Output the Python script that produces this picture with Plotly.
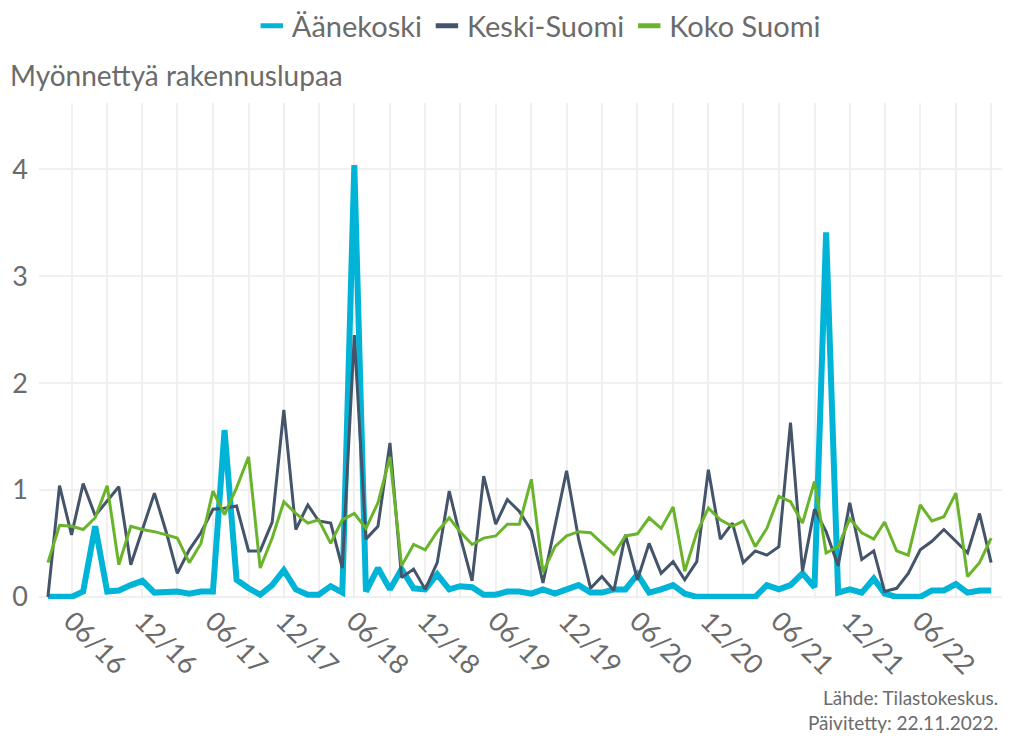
import pandas as pd
import plotly.graph_objects as go

months = pd.date_range("2016-04-01", periods=81, freq="MS")

aanekoski = [0, 0, 0, 0.05, 0.66, 0.05, 0.06, 0.11, 0.15, 0.04,
             0.05, 0.05, 0.03, 0.05, 0.05, 1.56, 0.16, 0.08, 0.02, 0.11,
             0.25, 0.07, 0.02, 0.02, 0.10, 0.04, 4.04, 0.05, 0.27, 0.07,
             0.26, 0.08, 0.07, 0.21, 0.07, 0.10, 0.09, 0.02, 0.02, 0.05,
             0.05, 0.03, 0.07, 0.03, 0.07, 0.11, 0.04, 0.04, 0.07, 0.07,
             0.21, 0.04, 0.07, 0.11, 0.03, 0, 0, 0, 0, 0,
             0, 0.11, 0.07, 0.11, 0.22, 0.09, 3.41, 0.04, 0.07, 0.04,
             0.17, 0.03, 0, 0, 0, 0.06, 0.06, 0.12, 0.04, 0.06,
             0.06]

keski_suomi = [0, 1.04, 0.58, 1.06, 0.76, 0.90, 1.03, 0.30, 0.63, 0.97,
               0.60, 0.22, 0.44, 0.60, 0.82, 0.83, 0.85, 0.43, 0.43, 0.70,
               1.75, 0.63, 0.86, 0.71, 0.69, 0.27, 2.45, 0.54, 0.66, 1.44,
               0.18, 0.26, 0.07, 0.32, 0.99, 0.57, 0.15, 1.13, 0.68, 0.91,
               0.80, 0.62, 0.13, 0.65, 1.18, 0.54, 0.08, 0.19, 0.06, 0.58,
               0.16, 0.50, 0.22, 0.33, 0.16, 0.33, 1.19, 0.54, 0.69, 0.32,
               0.43, 0.39, 0.47, 1.63, 0.24, 0.82, 0.61, 0.29, 0.88, 0.35,
               0.43, 0.05, 0.08, 0.22, 0.44, 0.52, 0.63, 0.52, 0.41, 0.78,
               0.32]

koko_suomi = [0.32, 0.67, 0.66, 0.63, 0.74, 1.04, 0.30, 0.66, 0.63, 0.61,
              0.58, 0.55, 0.32, 0.50, 0.99, 0.77, 1.02, 1.31, 0.27, 0.55,
              0.89, 0.78, 0.69, 0.72, 0.50, 0.72, 0.78, 0.64, 0.88, 1.31,
              0.29, 0.49, 0.44, 0.61, 0.74, 0.61, 0.49, 0.55, 0.57, 0.68,
              0.68, 1.10, 0.23, 0.47, 0.57, 0.61, 0.60, 0.50, 0.40, 0.57,
              0.59, 0.74, 0.64, 0.84, 0.24, 0.60, 0.83, 0.72, 0.66, 0.71,
              0.47, 0.64, 0.94, 0.89, 0.69, 1.08, 0.41, 0.47, 0.73, 0.60,
              0.54, 0.70, 0.43, 0.39, 0.86, 0.71, 0.75, 0.97, 0.19, 0.32,
              0.55]

series_names = ["Äänekoski", "Keski-Suomi", "Koko Suomi"]
series_values = [aanekoski, keski_suomi, koko_suomi]
colors = ["#00b4d8", "#44546a", "#6ab42c"]
widths = [6, 3, 3]

FONT = "Lato"
TEXT = "#6b6b6b"

# page body has an 8px default margin -> keep the figure inside the viewport
W, H = 994, 728

fig = go.Figure()
for name, vals, col, w in zip(series_names, series_values, colors, widths):
    fig.add_trace(go.Scatter(
        x=months, y=vals, mode="lines", name=name,
        line=dict(color=col, width=w, shape="linear"),
        showlegend=False, hoverinfo="skip"))

# legend entries (short bar symbols)
for name, col in zip(series_names, colors):
    fig.add_trace(go.Scatter(
        x=[None], y=[None], mode="markers", name=name,
        marker=dict(symbol="line-ew", size=16, color=col,
                    line=dict(color=col, width=5)),
        showlegend=True))

fig.update_layout(
    width=W, height=H,
    margin=dict(l=31, r=0, t=95, b=136.5),
    paper_bgcolor="white", plot_bgcolor="white",
    font=dict(family=FONT, color=TEXT, size=26),
    title=dict(text="Myönnettyä rakennuslupaa", xref="container", yref="container",
               x=2 / W, xanchor="left", y=1 - 68 / H, yanchor="middle",
               font=dict(family=FONT, size=28, color=TEXT)),
    legend=dict(orientation="h", x=0.519, xanchor="center", y=1 - 18 / H,
                yref="container", yanchor="middle",
                font=dict(family=FONT, size=29, color=TEXT),
                itemclick=False, tracegroupgap=0),
    xaxis=dict(type="date", range=["2016-03-09", "2022-12-29"],
               tick0="2016-06-01", dtick="M6", tickformat="%m/%y",
               tickangle=45, showgrid=True, gridcolor="#f0f0f0", gridwidth=2,
               zeroline=False, showline=False, ticks="",
               tickfont=dict(family=FONT, size=27, color=TEXT),
               minor=dict(tick0="2016-03-01", dtick="M3", showgrid=True,
                          gridcolor="#f0f0f0", gridwidth=2)),
    yaxis=dict(range=[-0.02, 4.62], dtick=1, tick0=0, showgrid=True,
               gridcolor="#f0f0f0", gridwidth=2, zeroline=False, showline=False,
               ticks="", ticklabelstandoff=10,
               tickfont=dict(family=FONT, size=27, color=TEXT)),
    annotations=[dict(text="Lähde: Tilastokeskus.<br>Päivitetty: 22.11.2022.",
                      xref="paper", yref="paper", x=0.998, y=-0.2246,
                      xanchor="right", yanchor="middle", align="right",
                      showarrow=False,
                      font=dict(family=FONT, size=19, color=TEXT))],
)

fig.write_html("out.html")
